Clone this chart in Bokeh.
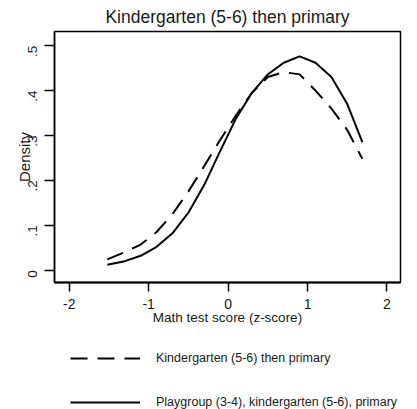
import math
from bokeh.plotting import figure
from bokeh.layouts import column
from bokeh.models import Range1d, FixedTicker, Legend, LegendItem
from bokeh.embed import file_html
from bokeh.resources import INLINE

# ---- data ----
title_text = "Kindergarten (5-6) then primary"
x_label = "Math test score (z-score)"
y_label = "Density"
x_ticks = [-2, -1, 0, 1, 2]
x_tick_labels = ["-2", "-1", "0", "1", "2"]
y_ticks = [0, 0.1, 0.2, 0.3, 0.4, 0.5]
y_tick_labels = ["0", ".1", ".2", ".3", ".4", ".5"]

kg_label = "Kindergarten (5-6) then primary"
kg_x = [-1.52, -1.3, -1.1, -0.9, -0.7, -0.5, -0.3, -0.1, 0.1, 0.3, 0.5, 0.7, 0.9, 1.1, 1.3, 1.5, 1.69]
kg_y = [0.024, 0.040, 0.057, 0.085, 0.125, 0.175, 0.232, 0.290, 0.345, 0.395, 0.430, 0.441, 0.436, 0.400, 0.360, 0.312, 0.248]

pg_label = "Playgroup (3-4), kindergarten (5-6), primary"
pg_x = [-1.52, -1.3, -1.1, -0.9, -0.7, -0.5, -0.3, -0.1, 0.1, 0.3, 0.5, 0.7, 0.9, 1.1, 1.3, 1.5, 1.69]
pg_y = [0.012, 0.020, 0.032, 0.052, 0.082, 0.128, 0.190, 0.265, 0.338, 0.395, 0.436, 0.462, 0.476, 0.462, 0.430, 0.370, 0.285]

FONT = "Liberation Sans"
TXT = "#1a1a1a"
KG_STYLE = dict(line_color="black", line_width=2, line_dash="17 10")
PG_STYLE = dict(line_color="black", line_width=2)

p = figure(width=417, height=335, output_backend="svg", toolbar_location=None,
           x_range=Range1d(-2.185, 2.17), y_range=Range1d(-0.0275, 0.5315),
           min_border_left=54, min_border_right=17, min_border_top=30, min_border_bottom=53)

p.background_fill_color = "white"
p.border_fill_color = "white"
p.outline_line_color = "black"
p.outline_line_width = 1.5
p.xgrid.visible = False
p.ygrid.visible = False

# title
p.title.text = title_text
p.title.align = "center"
p.title.text_font = FONT
p.title.text_font_size = "17.5px"
p.title.text_font_style = "normal"
p.title.text_color = TXT
p.title.standoff = 9
p.title.offset = 0

p.line(kg_x, kg_y, **KG_STYLE)
p.line(pg_x, pg_y, **PG_STYLE)

# axes
xa = p.xaxis[0]
xa.ticker = FixedTicker(ticks=x_ticks)
xa.major_label_overrides = {t: s for t, s in zip(x_ticks, x_tick_labels)}
xa.axis_label = x_label
xa.axis_label_text_font = FONT
xa.axis_label_text_font_size = "13.5px"
xa.axis_label_text_font_style = "normal"
xa.axis_label_text_color = TXT
xa.axis_label_standoff = -2
xa.major_label_text_font = FONT
xa.major_label_text_font_size = "14px"
xa.major_label_text_color = TXT
xa.major_label_standoff = 7
xa.major_tick_out = 9
xa.major_tick_in = 0
xa.minor_tick_out = 0
xa.minor_tick_in = 0
xa.axis_line_width = 2
xa.major_tick_line_width = 1.5

ya = p.yaxis[0]
ya.ticker = FixedTicker(ticks=y_ticks)
ya.major_label_overrides = {t: s for t, s in zip(y_ticks, y_tick_labels)}
ya.major_label_orientation = math.pi / 2
ya.axis_label = y_label
ya.axis_label_text_font = FONT
ya.axis_label_text_font_size = "15px"
ya.axis_label_text_font_style = "normal"
ya.axis_label_text_color = TXT
ya.axis_label_standoff = -12
ya.major_label_text_font = FONT
ya.major_label_text_font_size = "13.5px"
ya.major_label_text_color = TXT
ya.major_label_standoff = 12
ya.major_tick_out = 10
ya.major_tick_in = 0
ya.minor_tick_out = 0
ya.minor_tick_in = 0
ya.axis_line_width = 1.5
ya.major_tick_line_width = 1.5

# legend figure (below the chart); its renderers carry no visible points,
# they only provide the line style for the legend samples
lg = figure(width=417, height=74, output_backend="svg", toolbar_location=None,
            x_range=Range1d(0, 1), y_range=Range1d(0, 1),
            x_axis_location=None, y_axis_location=None,
            min_border_left=0, min_border_right=0, min_border_top=0, min_border_bottom=0)
lg.outline_line_color = None
lg.xgrid.visible = False
lg.ygrid.visible = False
lg.background_fill_color = "white"
lg.border_fill_color = "white"
r_kg = lg.line(x=[float("nan")], y=[float("nan")], **KG_STYLE)
r_pg = lg.line(x=[float("nan")], y=[float("nan")], **PG_STYLE)

legend = Legend(items=[LegendItem(label=kg_label, renderers=[r_kg]),
                       LegendItem(label=pg_label, renderers=[r_pg])],
                orientation="vertical", location=(16, 0),
                glyph_width=70, glyph_height=14, label_standoff=16,
                label_height=14, spacing=30, padding=0, margin=0,
                border_line_alpha=0, background_fill_alpha=0,
                label_text_font=FONT, label_text_font_size="12.5px",
                label_text_color=TXT)
lg.add_layout(legend, "center")

layout = column(p, lg, spacing=0)
open("out.html", "w").write(file_html(layout, INLINE))
